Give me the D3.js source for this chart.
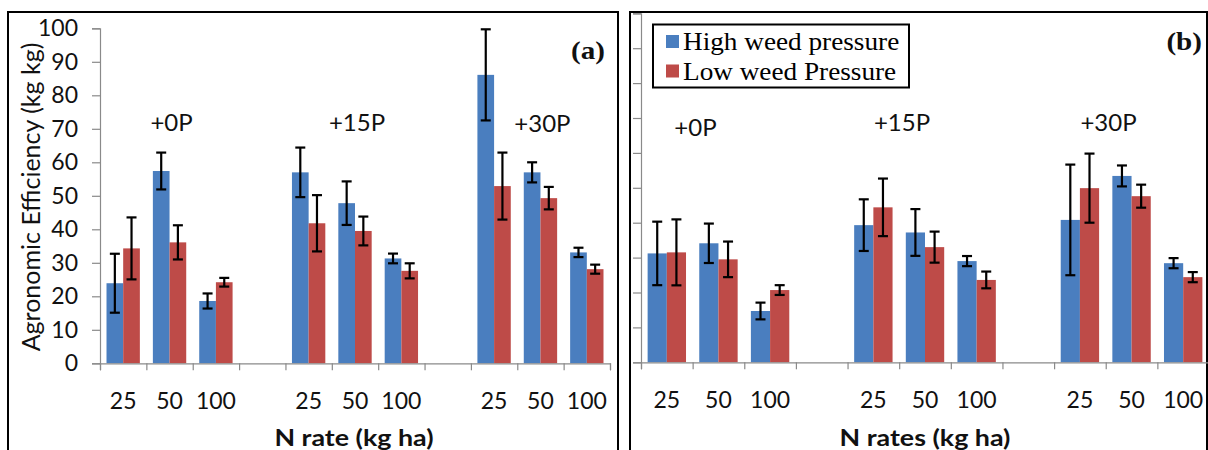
<!DOCTYPE html>
<html><head><meta charset="utf-8">
<script src="https://cdn.jsdelivr.net/npm/d3@7"></script>
<style>
html,body{margin:0;padding:0;background:#fff;}
svg{display:block;}
</style></head>
<body>
<svg id="chart" width="1208" height="450"></svg>
<script>
// ---- data ----
const groups = ["+0P", "+15P", "+30P"];
const nRates = ["25", "50", "100"];
const seriesNames = ["High weed pressure", "Low weed Pressure"];
const yTicks = [0, 10, 20, 30, 40, 50, 60, 70, 80, 90, 100];

// Panel (a)
const aHigh    = [23.9, 57.4, 18.6, 57.0, 47.8, 31.3, 86.1, 57.0, 33.1];
const aHighErr = [8.8, 5.5, 2.25, 7.4, 6.5, 1.45, 13.6, 3.0, 1.4];
const aLow     = [34.3, 36.1, 24.2, 41.8, 39.5, 27.6, 52.9, 49.3, 28.1];
const aLowErr  = [9.25, 5.1, 1.3, 8.4, 4.3, 2.25, 10.0, 3.35, 1.35];

// Panel (b)
const bHigh    = [31.2, 34.1, 14.7, 39.3, 37.2, 29.0, 40.8, 53.4, 28.4];
const bHighErr = [9.1, 5.65, 2.4, 7.4, 6.7, 1.45, 15.85, 3.0, 1.45];
const bLow     = [31.5, 29.5, 20.7, 44.4, 33.0, 23.6, 49.9, 47.6, 24.4];
const bLowErr  = [9.45, 5.1, 1.4, 8.25, 4.45, 2.4, 9.9, 3.3, 1.45];

const colors = ["#4A7EBF", "#BE4B48"];
const axisColor = "#8a8a8a";
const SANS = "Lato, 'Open Sans', sans-serif";
const SERIF = "'Liberation Serif', 'Times New Roman', serif";

const svg = d3.select("#chart");

// slot layout: 3 rates per group, blank slot between groups
const slotOf = (g, i) => g * 4 + i;
const nSlots = groups.length * 4 - 1;
const slotLabels = d3.range(nSlots).map(s => (s % 4 === 3) ? "" : nRates[s % 4]);

function panel(cfg) {
  const g = svg.append("g");
  g.append("rect").attr("x", cfg.frame[0]).attr("y", cfg.frame[1])
    .attr("width", cfg.frame[2]).attr("height", cfg.frame[3])
    .attr("fill", "none").attr("stroke", "#000").attr("stroke-width", 2);

  const x = d3.scaleBand().domain(d3.range(nSlots)).range(cfg.xr).paddingInner(0).paddingOuter(0);
  const xl = d3.scaleLinear().domain([0, nSlots]).range(cfg.xr);
  const y = d3.scaleLinear().domain([0, 100]).range(cfg.yr);
  const inner = d3.scaleBand().domain([0, 1]).range([0, x.bandwidth()]).paddingInner(0).paddingOuter(cfg.barPad);

  // y axis
  const ya = g.append("g").attr("transform", `translate(${cfg.xr[0]},0)`)
    .call(d3.axisLeft(y).tickValues(yTicks).tickSize(8).tickPadding(14)
      .tickFormat(cfg.yLabels ? d3.format("d") : ""));
  ya.select(".domain").attr("stroke", axisColor).attr("stroke-width", 1.2);
  ya.selectAll(".tick line").attr("stroke", axisColor).attr("stroke-width", 1.2);
  ya.selectAll(".tick text").style("font-size", "23px").style("font-family", SANS).attr("fill", "#111");

  // bars
  const series = [
    {vals: cfg.high, errs: cfg.highErr, c: colors[0], k: 0},
    {vals: cfg.low, errs: cfg.lowErr, c: colors[1], k: 1}
  ];
  const data = [];
  series.forEach(s => {
    groups.forEach((gr, gi) => nRates.forEach((r, ri) => {
      const idx = gi * 3 + ri;
      data.push({slot: slotOf(gi, ri), v: s.vals[idx], e: s.errs[idx], c: s.c, k: s.k});
    }));
  });
  g.selectAll("rect.bar").data(data).join("rect").attr("class", "bar")
    .attr("x", d => x(d.slot) + inner(d.k))
    .attr("width", inner.bandwidth())
    .attr("y", d => y(d.v))
    .attr("height", d => y(0) - y(d.v))
    .attr("fill", d => d.c);

  // x axis (boundary ticks)
  const xa = g.append("g").attr("transform", `translate(0,${cfg.yr[0]})`)
    .call(d3.axisBottom(xl).tickValues(d3.range(nSlots + 1)).tickSize(7).tickFormat(""));
  xa.select(".domain").attr("stroke", axisColor).attr("stroke-width", 1.2);
  xa.selectAll(".tick line").attr("stroke", axisColor).attr("stroke-width", 1.2);

  // category labels
  const xlab = g.append("g").attr("transform", `translate(0,${cfg.yr[0]})`)
    .call(d3.axisBottom(x).tickSize(0).tickPadding(29).tickFormat(s => slotLabels[s]));
  xlab.select(".domain").remove();
  xlab.selectAll(".tick text").style("font-size", "23px").style("font-family", SANS).attr("fill", "#111");

  // error bars
  const eb = g.append("g").attr("stroke", "#000").attr("stroke-width", 2.2);
  data.forEach(d => {
    const cx = x(d.slot) + inner(d.k) + inner.bandwidth() / 2;
    eb.append("line").attr("x1", cx).attr("x2", cx).attr("y1", y(d.v + d.e)).attr("y2", y(d.v - d.e));
    eb.append("line").attr("x1", cx - 5).attr("x2", cx + 5).attr("y1", y(d.v + d.e)).attr("y2", y(d.v + d.e));
    eb.append("line").attr("x1", cx - 5).attr("x2", cx + 5).attr("y1", y(d.v - d.e)).attr("y2", y(d.v - d.e));
  });

  // group labels
  groups.forEach((gr, gi) => {
    const cx = x(slotOf(gi, 1)) + x.bandwidth() / 2 + cfg.groupDx;
    g.append("text").attr("x", cx).attr("y", cfg.groupY[gi])
      .attr("text-anchor", "middle").style("font-size", "24px").style("font-family", SANS)
      .attr("fill", "#111").text(gr);
  });

  // x title
  g.append("text").attr("transform", `translate(${cfg.xTitle[0]},${cfg.xTitle[1]}) scale(1.22,1)`)
    .attr("text-anchor", "middle")
    .style("font-size", "22px").style("font-family", SANS).style("font-weight", "bold")
    .attr("fill", "#111").text(cfg.xTitleText);

  // panel letter
  g.append("text").attr("transform", `translate(${cfg.letter[0]},${cfg.letter[1]}) scale(1.12,1)`)
    .attr("text-anchor", "end")
    .style("font-family", SERIF).style("font-size", "26px").style("font-weight", "bold")
    .attr("fill", "#111").text(cfg.letterText);

  return {x, y};
}

panel({
  frame: [8, 12, 610, 460],
  xr: [100, 610], yr: [363.3, 28.3],
  barPad: 0.39,
  yLabels: true,
  high: aHigh, highErr: aHighErr, low: aLow, lowErr: aLowErr,
  groupDx: 2, groupY: [131, 131, 132],
  xTitle: [354, 446], xTitleText: "N rate (kg ha)",
  letter: [605, 59], letterText: "(a)"
});

panel({
  frame: [630, 12, 577, 460],
  xr: [641, 1209], yr: [362.3, 13.3],
  barPad: 0.345,
  yLabels: false,
  high: bHigh, highErr: bHighErr, low: bLow, lowErr: bLowErr,
  groupDx: -23, groupY: [136, 131, 131],
  xTitle: [925, 446], xTitleText: "N rates (kg ha)",
  letter: [1202, 50], letterText: "(b)"
});

// y title
svg.append("text").attr("transform", "translate(40,197) rotate(-90)")
  .attr("text-anchor", "middle").style("font-size", "25px").style("font-family", SANS)
  .attr("fill", "#111").text("Agronomic Efficiency (kg kg)");

// legend
const lg = svg.append("g");
lg.append("rect").attr("x", 653).attr("y", 24.5).attr("width", 256).attr("height", 63)
  .attr("fill", "#fff").attr("stroke", "#000").attr("stroke-width", 2);
seriesNames.forEach((n, i) => {
  lg.append("rect").attr("x", 666).attr("y", 35 + i * 29.5).attr("width", 13).attr("height", 13).attr("fill", colors[i]);
  lg.append("text").attr("transform", `translate(683,${50 + i * 29.5}) scale(1.09,1)`)
    .style("font-family", SERIF).style("font-size", "25px")
    .attr("fill", "#000").text(n);
});
</script>
</body></html>
